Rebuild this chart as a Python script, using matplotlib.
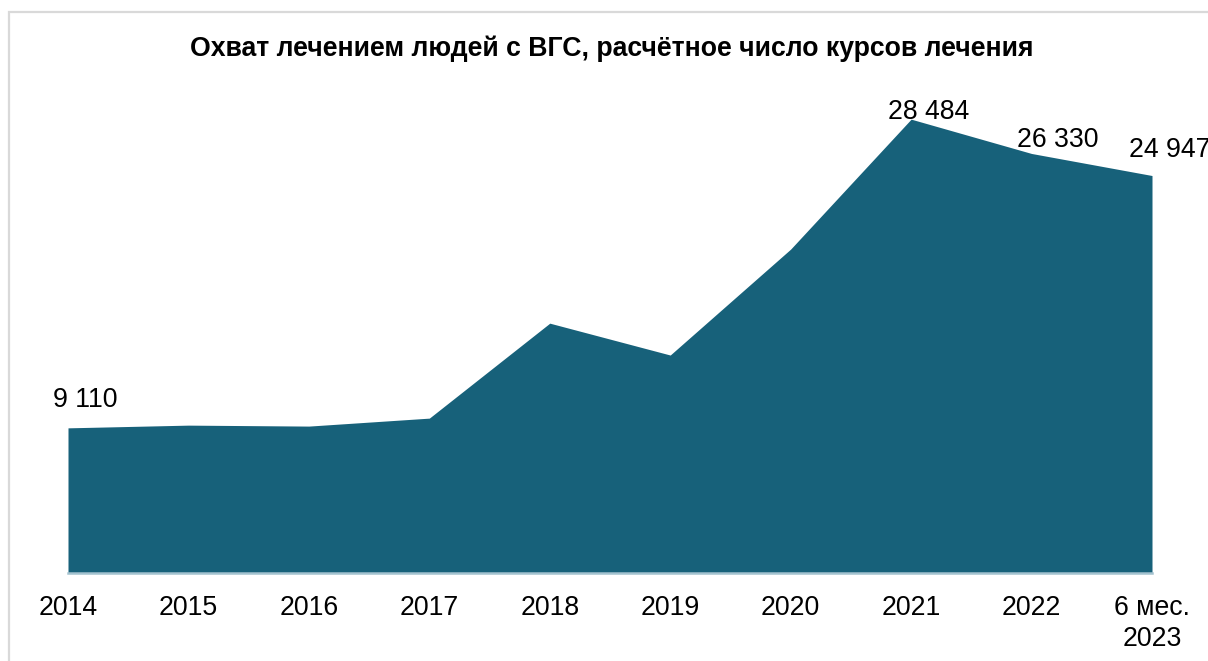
import matplotlib
matplotlib.use("Agg")
import matplotlib.pyplot as plt
from matplotlib.patches import Rectangle

plt.rcParams['font.family'] = ['Liberation Sans', 'DejaVu Sans']

categories = ["2014", "2015", "2016", "2017", "2018", "2019", "2020", "2021", "2022", "6 мес.\n2023"]
values = [9110, 9280, 9220, 9720, 15680, 13680, 20330, 28484, 26330, 24947]
labels = ["9 110", "", "", "", "", "", "", "28 484", "26 330", "24 947"]
label_offsets = [(17, 28), None, None, None, None, None, None, (18, 7), (26, 13), (18, 26)]
title = "Охват лечением людей с ВГС, расчётное число курсов лечения"

W, H = 1208, 661
fig = plt.figure(figsize=(W / 100, H / 100), dpi=100)

# outer border (only left and top visible)
fig.add_artist(Rectangle((8.5 / W, -0.05), 1.2, (H - 12.5) / H + 0.05,
                         transform=fig.transFigure, fill=False,
                         edgecolor="#d9d9d9", linewidth=1.6))

ax_left, ax_right = 68 / W, 1152 / W
ax_bottom, ax_top = (H - 573) / H, (H - 95) / H
ax = fig.add_axes([ax_left, ax_bottom, ax_right - ax_left, ax_top - ax_bottom])

x = list(range(len(categories)))
ax.fill_between(x, 0, values, color="#17617A", linewidth=0)
ax.set_xlim(0, len(categories) - 1)
ax.set_ylim(0, 30000)

for s in ["top", "right", "left"]:
    ax.spines[s].set_visible(False)
ax.spines["bottom"].set_color("#a3c2cf")
ax.spines["bottom"].set_linewidth(1.8)
ax.set_yticks([])
ax.set_xticks(x)
ax.set_xticklabels(categories, fontsize=19.2, linespacing=1.25)
ax.tick_params(axis="x", length=0, pad=15.5)

for xi, v, lab, off in zip(x, values, labels, label_offsets):
    if lab:
        ax.annotate(lab, (xi, v), xytext=(off[0] * 0.72, off[1] * 0.72),
                    textcoords="offset points", ha="center", va="center",
                    fontsize=19.2, color="#000000", annotation_clip=False)

fig.text(612 / W, (H - 49) / H, title, ha="center", va="center",
         fontsize=19.2, fontweight="bold")

fig.savefig("out.png", dpi=100)
